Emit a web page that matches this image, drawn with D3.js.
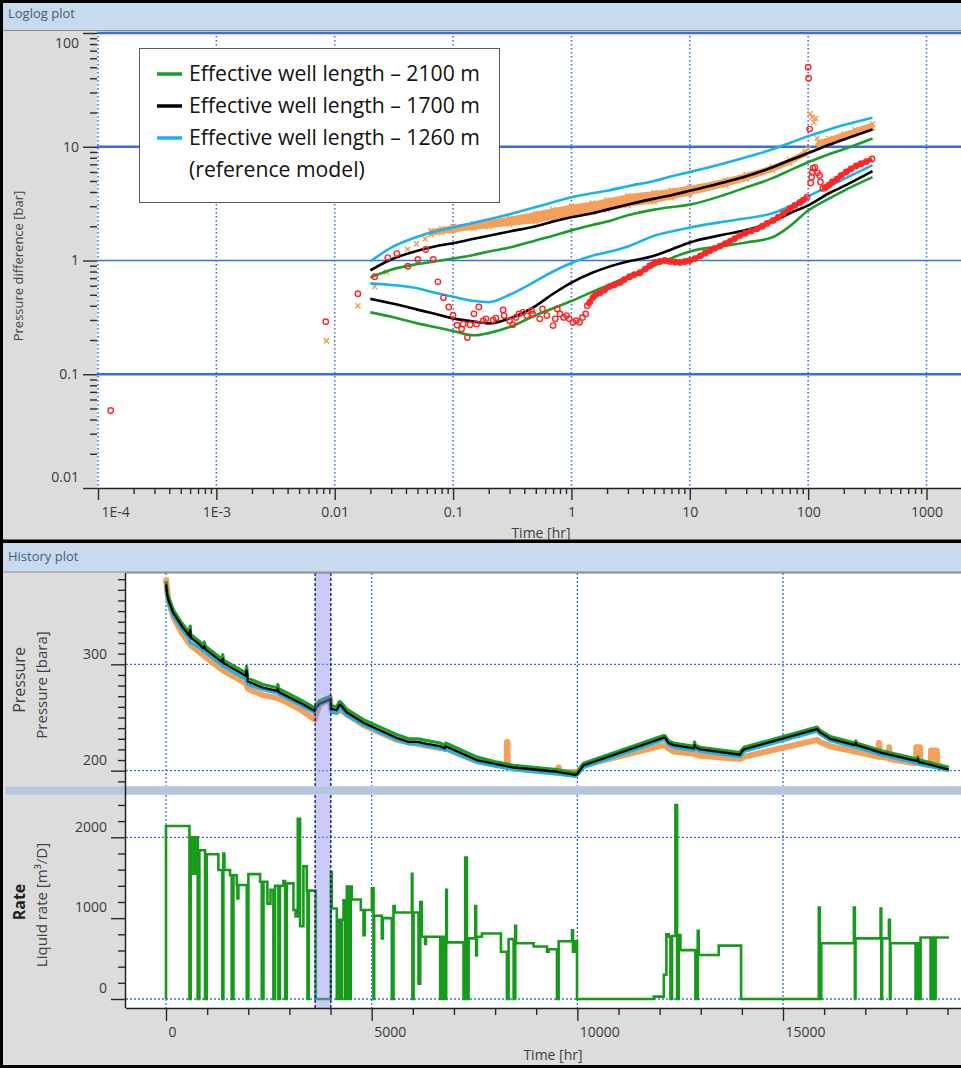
<!DOCTYPE html>
<html>
<head>
<meta charset="utf-8">
<script src="https://cdn.jsdelivr.net/npm/d3@7"></script>
<style>
body { margin: 0; background: #fff; }
svg { display: block; font-family: "Open Sans", "Noto Sans", sans-serif; }
</style>
</head>
<body>
<div id="chart"></div>
<script>
// ---------- loglog data ----------
var modelT = [0.02,0.03,0.05,0.07,0.1,0.15,0.2,0.3,0.5,0.7,1,1.5,2,3,5,7,10,20,30,50,70,100,150,200,350];
var blueP  = [0.98,1.3,1.62,1.8,1.95,2.15,2.3,2.55,2.95,3.25,3.6,3.9,4.1,4.5,5.0,5.5,6.0,7.2,8.1,9.5,10.8,12.4,14.2,15.5,18.0];
var blackP = [0.82,1.02,1.22,1.33,1.42,1.55,1.65,1.8,2.0,2.2,2.4,2.6,2.8,3.1,3.5,3.75,4.1,4.9,5.5,6.6,7.6,8.8,10.4,11.6,14.2];
var greenP = [0.71,0.83,0.93,0.98,1.04,1.12,1.2,1.3,1.5,1.65,1.84,2.05,2.2,2.5,2.8,2.95,3.1,3.8,4.4,5.3,6.2,7.3,8.6,9.5,11.8];
var blueD  = [0.63,0.61,0.57,0.52,0.48,0.44,0.43,0.5,0.66,0.8,0.95,1.1,1.18,1.33,1.65,1.8,1.95,2.2,2.35,2.6,3.0,3.66,4.5,5.2,6.9];
var blackD = [0.46,0.42,0.37,0.34,0.31,0.29,0.28,0.31,0.4,0.51,0.64,0.78,0.87,0.98,1.1,1.25,1.44,1.7,1.85,2.2,2.6,3.05,3.9,4.5,6.1];
var greenD = [0.35,0.32,0.28,0.26,0.24,0.22,0.23,0.26,0.33,0.38,0.44,0.53,0.6,0.72,0.9,1.05,1.2,1.35,1.44,1.6,2.0,2.75,3.5,4.1,5.4];

// measured pressure change (crosses)
var orSparseT = [0.0085,0.0157,0.0218,0.0274,0.0412,0.049,0.058];
var orSparseV = [0.197,0.40,0.59,0.79,1.25,1.40,1.55];
var orBandT  = [0.065,0.08,0.1,0.15,0.2,0.3,0.5,0.7,1,1.5,2,3,5,7,10,20,30,50,70,95];
var orBandLo = [1.7,1.76,1.82,1.92,1.98,2.08,2.2,2.35,2.5,2.65,2.8,3.05,3.3,3.55,3.85,4.6,5.2,6.2,7.2,8.5];
var orBandHi = [1.82,1.9,1.98,2.1,2.2,2.35,2.6,2.8,3.0,3.2,3.4,3.7,3.95,4.15,4.4,5.1,5.7,6.7,7.7,9.1];
var orSpikeT = [100,104,108,112,116,119];
var orSpikeV = [9.6,19.5,18.2,16.4,17.8,11.9];
var orLateT  = [122,150,200,250,350];
var orLateLo = [10.0,10.8,12.0,13.0,14.6];
var orLateHi = [11.0,11.8,13.0,14.1,15.9];

// measured derivative (circles)
var redT = [0.000128,0.0084,0.0157,0.0218,0.0281,0.0335,0.0415,0.0504,0.0589,0.068,0.0745,0.083,0.092,0.1,0.108,0.118,0.122,0.132,0.139,0.15,0.158,0.165,0.18,0.19,0.218,0.23,0.265,0.27,0.30,0.32,0.34,0.36,0.39,0.42,0.46,0.47,0.54,0.57,0.62,0.70,0.73,0.76,0.80,0.86,0.91,0.96,1.03,1.1,1.17,1.24,1.32,1.36,1.43,1.52,1.6,1.74,1.9,2.1,2.3,2.57,2.8,3.1,3.4,3.79,4.2,4.6,5.08,5.6,6.17,6.8,7.5,8.26,9.1,10,11.07,12.3,13.5,14.8,16.3,18,19.9,22,24,26.5,29.5,33,37,41,45,50.5,56,62,70.3,77,85.4,91,97.8,100,101,103,105,107,108.5,110,114,120,125,127,133,140,150,160,175,190,210,230,255,280,310,347];
var redV = [0.048,0.29,0.51,0.72,1.06,1.15,0.89,1.02,1.25,1.02,0.65,0.47,0.39,0.33,0.27,0.25,0.277,0.21,0.273,0.34,0.277,0.39,0.296,0.307,0.30,0.312,0.368,0.328,0.296,0.273,0.316,0.339,0.35,0.328,0.362,0.339,0.307,0.375,0.328,0.268,0.307,0.375,0.339,0.316,0.328,0.307,0.286,0.296,0.286,0.316,0.339,0.40,0.43,0.475,0.50,0.52,0.55,0.59,0.61,0.64,0.68,0.72,0.75,0.78,0.84,0.9,0.96,0.98,1.0,0.98,0.97,0.96,0.98,1.0,1.04,1.1,1.16,1.22,1.28,1.34,1.41,1.48,1.56,1.66,1.74,1.82,1.9,2.0,2.12,2.25,2.4,2.6,2.87,3.05,3.24,3.4,3.6,50,40,14.3,4.8,5.4,6.0,6.5,6.6,5.9,5.6,4.9,4.3,4.4,4.6,4.9,5.2,5.6,6.0,6.4,6.8,7.1,7.4,7.8];

var llXTicks = [1e-4,1e-3,0.01,0.1,1,10,100,1000];
var llYTicks = [0.01,0.1,1,10,100];
var legendLabels = ["Effective well length \u2013 2100 m","Effective well length \u2013 1700 m","Effective well length \u2013 1260 m","(reference model)"];

// ---------- history data ----------
var pTime  = [0,30,60,180,380,560,590,600,830,900,930,960,1360,1380,1400,1940,1960,1990,2360,2700,2720,2740,3250,3620,3640,3740,3990,4010,4150,4220,4260,4390,4800,5600,5900,6130,6250,6660,6780,6800,7550,8050,8450,9500,9950,10000,10150,12100,12130,12220,12340,12830,12850,12870,12990,13960,13980,14050,15830,15900,16150,16750,16770,16790,17370,18260,18280,18300,18430,19030];
var pGreen = [378,368,363,351,339,330,336,328,321,318,321,317,305,309,304,292,298,287,281,278,281,277,267,259,262,266,270,261,260,265,264,258,248,234,230,230,229,226,224,226,213,208,205,201,198,199,207,233,233,228,226,223,227,224,222,217,219,222,241,238,232,226,228,226,219,211,213,210,209,203];
var pBlack = [375,365,360,348,336,327,332,325,318,315,317,314,302,305,301,289,294,284,278,275,277,274,264,256,259,263,267,258,257,262,261,255,245,231,227,227,226,223,221,223,210,206,203,199,196,197,205,231,231,226,224,221,224,222,220,215,217,220,239,236,230,224,226,224,217,209,211,208,207,201];
var pBlue  = [372,362,357,345,333,324,320,321,315,312,313,311,299,298,298,286,283,281,276,273,273,272,262,254,257,262,266,255,254,259,258,252,243,229,225,225,224,221,219,220,208,204,201,197,194.5,196,203,229,229,224,222,219,221,220,218,213,214,218,237,234,228,222,223,222,215,207,208,206,205,200];
var oTime = [0,30,60,180,380,560,600,830,960,1360,1400,1940,1990,2360,2740,3250,3620,3640,3740,3990,4010,4150,4220,4390,4800,5600,6130,6660,6800,7550,8050,8280,8290,8300,8310,8450,9500,9540,9550,9560,9950,10000,10150,12100,12130,12220,12340,12830,12990,13960,14050,15830,15900,16150,16750,17320,17330,17340,17370,17570,17580,17590,18230,18240,18330,18340,18430,18590,18600,18740,18750,19030];
var oVal  = [381,368,360,344,330,320,318,311,307,295,294,282,277,271,268,258,248,252,262,268,258,255,258,253,243,229,225,221,221,209,205,204,227,227,204,202,198,203,203,198,199,198,205,224,224,221,218,216,214,211,213,229,227,223,218,213,226,226,213,212,222,211,207,222,222,207,206,205,219,219,205,202];

var rateT = [0,0,570,600,665,706,770,811,949,989,1273,1370,1395,1420,1557,1598,1640,1720,1736,1760,1963,2003,2287,2328,2370,2465,2540,2611,2652,2733,2770,2855,2895,2936,3098,3150,3204,3260,3341,3422,3439,3470,3641,4006,4031,4152,4193,4230,4274,4315,4350,4396,4460,4490,4517,4736,4801,4830,5004,5045,5060,5247,5270,5490,5531,5560,5977,5990,6018,6139,6180,6220,6301,6320,6666,6700,6748,6812,6829,7234,7274,7315,7356,7518,7540,7558,7680,8142,8288,8329,8451,8491,8510,8937,9262,9302,9505,9546,9870,9894,9951,9992,11857,12103,12165,12222,12263,12303,12384,12425,12465,12506,12871,12927,12951,13438,13981,15871,15896,15930,16723,16747,16763,17372,17390,17410,17575,17599,17615,18223,18260,18300,18345,18588,18620,18650,18710,19034];
var rateQ = [0,2140,0,2000,1550,2000,0,1840,0,1790,1595,0,1800,1595,1530,0,1530,1410,1245,1410,0,1545,1450,0,1450,1180,1350,0,1400,0,1400,1460,0,1430,1100,1020,2230,900,1640,1340,0,1340,0,1570,1120,0,980,0,980,1220,0,1390,0,1390,1230,1100,790,1100,1370,0,1030,750,1000,0,1150,1070,1550,0,1070,190,1200,770,680,770,0,770,0,1350,700,0,1750,0,750,1150,540,770,810,585,0,740,0,905,690,650,585,615,0,715,850,585,715,0,30,300,800,770,0,780,2400,0,790,605,0,845,545,660,0,1130,0,690,1130,0,750,1120,0,750,980,0,690,0,690,0,760,0,760,0,760,760];

var shutInWindow = [3625, 4007];
var histXTicks = [0,5000,10000,15000];
var pressTicks = [200,300];
var rateTicks = [0,1000,2000];

// ---------- setup ----------
var W = 961, H = 1068;
var gridBlue = "#3d6be0";
var cGreen = "#1a9e2a", cBlue = "#1ab2ea", cOrange = "#f5a05a", cRed = "#ff2626";

var svg = d3.select("#chart").append("svg").attr("width", W).attr("height", H);

svg.append("rect").attr("width", W).attr("height", H).attr("fill", "#dcdcdc");

const zip = (a, b) => a.map((d, i) => [d, b[i]]);

// ================= LOGLOG PANEL =================
svg.append("rect").attr("x", 2).attr("y", 2).attr("width", W - 2).attr("height", 28).attr("fill", "#c8daed");
svg.append("line").attr("x1", 2).attr("x2", W).attr("y1", 30.5).attr("y2", 30.5).attr("stroke", "#8a8a8a");
svg.append("text").attr("x", 8).attr("y", 18).text("Loglog plot")
  .attr("font-size", 13).attr("fill", "#4d5a78");

var llL = 97, llT = 32, llR = 961, llB = 488;
var x1 = d3.scaleLog().domain([1e-4, 1000]).range([98, 926.5]);
var y1 = d3.scaleLog().domain([0.01, 100]).range([488, 33]);

svg.append("rect").attr("x", llL).attr("y", llT).attr("width", llR - llL).attr("height", llB - llT).attr("fill", "#fff");
svg.append("clipPath").attr("id", "clipLL").append("rect")
  .attr("x", llL).attr("y", llT - 2).attr("width", llR - llL).attr("height", llB - llT + 2);

var ll = svg.append("g");
var llClip = svg.append("g").attr("clip-path", "url(#clipLL)");

// grid
llClip.selectAll(".vg").data(llXTicks).enter().append("line")
  .attr("x1", d => x1(d)).attr("x2", d => x1(d)).attr("y1", llT).attr("y2", llB)
  .attr("stroke", gridBlue).attr("stroke-width", 1.6).attr("stroke-dasharray", "1.5,2.5");
llClip.selectAll(".hg").data([0.1, 1, 10, 100]).enter().append("line")
  .attr("x1", llL).attr("x2", llR).attr("y1", d => y1(d)).attr("y2", d => y1(d))
  .attr("stroke", gridBlue).attr("stroke-width", d => d == 1 ? 1.3 : 2.3);

// axes
var fmtLL = d => d < 0.005 ? d3.format(".0e")(d).replace("e-", "E-").replace("1E-0", "1E-") : d3.format("~g")(d);
var yMinor = [];
[0.01, 0.1, 1, 10].forEach(function (dec) { for (var k = 2; k < 10; k++) yMinor.push(dec * k); });
var xMinor = [];
[1e-4, 1e-3, 0.01, 0.1, 1, 10, 100].forEach(function (dec) { for (var k = 2; k < 10; k++) xMinor.push(dec * k); });

var yAx = ll.append("g").attr("transform", "translate(" + llL + ",0)")
  .call(d3.axisLeft(y1).tickValues(llYTicks).tickSize(14).tickPadding(4).tickFormat(fmtLL));
ll.append("g").attr("transform", "translate(" + llL + ",0)")
  .call(d3.axisLeft(y1).tickValues(yMinor).tickSize(7).tickFormat(""));
var xAx = ll.append("g").attr("transform", "translate(0," + llB + ")")
  .call(d3.axisBottom(x1).tickValues(llXTicks).tickSize(12).tickPadding(7).tickFormat(fmtLL));
ll.append("g").attr("transform", "translate(0," + llB + ")")
  .call(d3.axisBottom(x1).tickValues(xMinor).tickSize(6).tickFormat(""));
ll.selectAll(".domain").remove();
ll.append("line").attr("x1", llL).attr("x2", llR).attr("y1", llB + 0.5).attr("y2", llB + 0.5).attr("stroke", "#222").attr("stroke-width", 1.5);
ll.selectAll(".tick line").attr("stroke", "#2a2a2a").attr("stroke-width", 1.4);
ll.selectAll(".tick text").attr("font-size", 14).attr("fill", "#3a3a3a").attr("font-family", "'Open Sans', sans-serif");
yAx.selectAll(".tick text").attr("dy", d => d == 100 ? "1.05em" : d == 0.01 ? "-0.5em" : "0.32em");
xAx.selectAll(".tick text").filter(d => d == 1e-4).attr("text-anchor", "start").attr("x", 3);

ll.append("text").attr("x", 541).attr("y", 538).attr("text-anchor", "middle")
  .attr("font-size", 14).attr("fill", "#404040").text("Time [hr]");
ll.append("text").attr("transform", "translate(23,266) rotate(-90)").attr("text-anchor", "middle")
  .attr("font-size", 13).attr("fill", "#454545").text("Pressure difference [bar]");

// data
var llLine = d3.line().x(d => x1(d[0])).y(d => y1(d[1])).curve(d3.curveMonotoneX);
var band = d3.area().x(d => x1(d[0])).y0(d => y1(d[1])).y1(d => y1(d[2])).curve(d3.curveMonotoneX);
var crossPath = "M-2.6,-2.6L2.6,2.6M-2.6,2.6L2.6,-2.6";

var orBand = orBandT.map((t, i) => [t, orBandLo[i], orBandHi[i]]);
var orLate = orLateT.map((t, i) => [t, orLateLo[i], orLateHi[i]]);
llClip.append("path").datum(orBand).attr("d", band).attr("fill", cOrange).attr("stroke", cOrange).attr("stroke-width", 3);
llClip.append("path").datum(orLate).attr("d", band).attr("fill", cOrange).attr("stroke", cOrange).attr("stroke-width", 3);

var crossPts = zip(orSparseT, orSparseV).concat(zip(orSpikeT, orSpikeV))
  .concat(orBand.map(d => [d[0], d[1]])).concat(orBand.map(d => [d[0], d[2]]))
  .concat(orLate.map(d => [d[0], d[1]])).concat(orLate.map(d => [d[0], d[2]]));
llClip.selectAll(".cross").data(crossPts).enter().append("path")
  .attr("d", crossPath).attr("transform", d => "translate(" + x1(d[0]) + "," + y1(d[1]) + ")")
  .attr("stroke", cOrange).attr("stroke-width", 1.5).attr("fill", "none");

var models = [
  { v: greenD, c: cGreen }, { v: blackD, c: "#000" }, { v: blueD, c: cBlue },
  { v: greenP, c: cGreen }, { v: blackP, c: "#000" }, { v: blueP, c: cBlue }
];
llClip.selectAll(".model").data(models).enter().append("path")
  .attr("d", d => llLine(zip(modelT, d.v)))
  .attr("fill", "none").attr("stroke", d => d.c).attr("stroke-width", 2.6);

var redPts = zip(redT, redV);
var redDense1 = redPts.filter(d => d[0] >= 1.36 && d[0] <= 98);
var redDense2 = redPts.filter(d => d[0] >= 133);
[redDense1, redDense2].forEach(function (seg) {
  llClip.append("path").datum(seg).attr("d", d3.line().x(d => x1(d[0])).y(d => y1(d[1])))
    .attr("fill", "none").attr("stroke", cRed).attr("stroke-width", 4.5).attr("stroke-linejoin", "round");
});
llClip.selectAll(".circ").data(redPts).enter().append("circle")
  .attr("cx", d => x1(d[0])).attr("cy", d => y1(d[1])).attr("r", 2.7)
  .attr("fill", "none").attr("stroke", cRed).attr("stroke-width", 1.4);

// legend
var leg = svg.append("g");
leg.append("rect").attr("x", 139.5).attr("y", 48.5).attr("width", 360).attr("height", 154)
  .attr("fill", "#fff").attr("stroke", "#5a5a5a").attr("stroke-width", 1);
var legColors = [cGreen, "#000", cBlue, null];
var legTexts = leg.selectAll(".lt").data(legendLabels).enter().append("text")
  .attr("x", 189).attr("y", (d, i) => 81 + i * 32)
  .attr("font-size", 20).attr("fill", "#111").attr("font-family", "'Open Sans', sans-serif")
  .text(d => d);
var tw = legTexts.node().getComputedTextLength();
legTexts.attr("font-size", 20 * 291 / tw);
leg.selectAll(".ll").data(legColors.filter(c => c)).enter().append("line")
  .attr("x1", 157).attr("x2", 182).attr("y1", (d, i) => 74 + i * 32).attr("y2", (d, i) => 74 + i * 32)
  .attr("stroke", d => d).attr("stroke-width", 3.5);

// ================= HISTORY PANEL =================
svg.append("rect").attr("x", 0).attr("y", 539.5).attr("width", W).attr("height", 3.5).attr("fill", "#000");
svg.append("rect").attr("x", 2).attr("y", 543).attr("width", W - 2).attr("height", 28.5).attr("fill", "#c8daed");
svg.append("line").attr("x1", 2).attr("x2", W).attr("y1", 572).attr("y2", 572).attr("stroke", "#8a8a8a");
svg.append("text").attr("x", 8).attr("y", 561).text("History plot")
  .attr("font-size", 13).attr("fill", "#4d5a78");

var hL = 126, hR = 961, pT = 573, pB = 786, rT = 795, rB = 1008;
var x2 = d3.scaleLinear().domain([0, 15000]).range([166, 783]);
var yP = d3.scaleLinear().domain([200, 300]).range([770.7, 664.3]);
var yR = d3.scaleLinear().domain([0, 2000]).range([999, 837.3]);

svg.append("rect").attr("x", hL).attr("y", pT).attr("width", hR - hL).attr("height", pB - pT).attr("fill", "#fff");
svg.append("rect").attr("x", hL).attr("y", rT).attr("width", hR - hL).attr("height", rB - rT).attr("fill", "#fff");
svg.append("rect").attr("x", 6).attr("y", pB + 0.5).attr("width", W - 6).attr("height", rT - pB - 1).attr("fill", "#b3c6dd");

svg.append("clipPath").attr("id", "clipP").append("rect").attr("x", hL).attr("y", pT).attr("width", hR - hL).attr("height", pB - pT);
svg.append("clipPath").attr("id", "clipR").append("rect").attr("x", hL).attr("y", rT).attr("width", hR - hL).attr("height", rB - rT);
var gp = svg.append("g").attr("clip-path", "url(#clipP)");
var gr = svg.append("g").attr("clip-path", "url(#clipR)");

// grid
[[gp, pT, pB], [gr, rT, rB]].forEach(function (s) {
  s[0].selectAll(".vg").data(histXTicks).enter().append("line")
    .attr("x1", d => x2(d)).attr("x2", d => x2(d)).attr("y1", s[1]).attr("y2", s[2])
    .attr("stroke", gridBlue).attr("stroke-width", 1.3).attr("stroke-dasharray", "2,2");
});
gp.selectAll(".hg").data(pressTicks).enter().append("line")
  .attr("x1", hL).attr("x2", hR).attr("y1", d => yP(d)).attr("y2", d => yP(d))
  .attr("stroke", gridBlue).attr("stroke-width", 1.3).attr("stroke-dasharray", "2,2");
gr.selectAll(".hg").data([0, 2000]).enter().append("line")
  .attr("x1", hL).attr("x2", hR).attr("y1", d => yR(d)).attr("y2", d => yR(d))
  .attr("stroke", gridBlue).attr("stroke-width", 1.3).attr("stroke-dasharray", "2,2");

// pressure lines
var pLine = d3.line().x(d => x2(d[0])).y(d => yP(d[1]));
gp.append("path").datum(zip(oTime, oVal)).attr("d", pLine).attr("fill", "none")
  .attr("stroke", cOrange).attr("stroke-width", 6).attr("stroke-linejoin", "round");
gp.append("path").datum(zip(pTime, pBlue)).attr("d", pLine).attr("fill", "none")
  .attr("stroke", cBlue).attr("stroke-width", 3).attr("stroke-linejoin", "round");
gp.append("path").datum(zip(pTime, pGreen)).attr("d", pLine).attr("fill", "none")
  .attr("stroke", cGreen).attr("stroke-width", 3.2).attr("stroke-linejoin", "round");
gp.append("path").datum(zip(pTime, pBlack)).attr("d", pLine).attr("fill", "none")
  .attr("stroke", "#000").attr("stroke-width", 2.3).attr("stroke-linejoin", "round");

// rate
var rLine = d3.line().x(d => x2(d[0])).y(d => yR(d[1])).curve(d3.curveStepAfter);
gr.append("path").datum(zip(rateT, rateQ)).attr("d", rLine).attr("fill", "none")
  .attr("stroke", "#17991c").attr("stroke-width", 2.6);

// shut-in highlight
[[gp, pT, pB], [gr, rT, rB]].forEach(function (s) {
  s[0].append("rect").attr("x", x2(shutInWindow[0])).attr("y", s[1])
    .attr("width", x2(shutInWindow[1]) - x2(shutInWindow[0])).attr("height", s[2] - s[1])
    .attr("fill", "#8c8cee").attr("fill-opacity", 0.45);
  s[0].selectAll(".sb").data(shutInWindow).enter().append("line")
    .attr("x1", d => x2(d)).attr("x2", d => x2(d)).attr("y1", s[1]).attr("y2", s[2])
    .attr("stroke", "#0a0a80").attr("stroke-width", 1.3).attr("stroke-dasharray", "3,2");
});

// axes
var ax = svg.append("g");
var pMinor = d3.range(190, 390, 10).filter(d => d % 100 != 0);
var rMinor = d3.range(200, 2600, 200).filter(d => d % 1000 != 0);
var hMinor = d3.range(1000, 20000, 1000).filter(d => d % 5000 != 0);

var pAx = ax.append("g").attr("transform", "translate(" + hL + ",0)")
  .call(d3.axisLeft(yP).tickValues(pressTicks).tickSize(15).tickPadding(4).tickFormat(d3.format("d")));
ax.append("g").attr("transform", "translate(" + hL + ",0)")
  .call(d3.axisLeft(yP).tickValues(pMinor).tickSize(8).tickFormat(""));
var rAx = ax.append("g").attr("transform", "translate(" + hL + ",0)")
  .call(d3.axisLeft(yR).tickValues(rateTicks).tickSize(15).tickPadding(4).tickFormat(d3.format("d")));
ax.append("g").attr("transform", "translate(" + hL + ",0)")
  .call(d3.axisLeft(yR).tickValues(rMinor).tickSize(8).tickFormat(""));
var hAx = ax.append("g").attr("transform", "translate(0," + rB + ")")
  .call(d3.axisBottom(x2).tickValues(histXTicks).tickSize(13).tickPadding(6).tickFormat(d3.format("d")));
ax.append("g").attr("transform", "translate(0," + rB + ")")
  .call(d3.axisBottom(x2).tickValues(hMinor).tickSize(7).tickFormat(""));
ax.selectAll(".domain").remove();
ax.selectAll(".tick line").attr("stroke", "#2a2a2a").attr("stroke-width", 1.4);
ax.selectAll(".tick text").attr("font-size", 14).attr("fill", "#3a3a3a").attr("font-family", "'Open Sans', sans-serif");
pAx.selectAll(".tick text").attr("dy", "-0.45em");
rAx.selectAll(".tick text").attr("dy", "-0.45em");
hAx.selectAll(".tick text").attr("text-anchor", "start").attr("x", 2);

ax.append("line").attr("x1", hL - 0.5).attr("x2", hL - 0.5).attr("y1", pT).attr("y2", rB).attr("stroke", "#222").attr("stroke-width", 1.5);
ax.append("line").attr("x1", hL).attr("x2", hR).attr("y1", rB + 0.5).attr("y2", rB + 0.5).attr("stroke", "#222").attr("stroke-width", 1.5);
ax.append("line").attr("x1", hL).attr("x2", hR).attr("y1", pT).attr("y2", pT).attr("stroke", "#777").attr("stroke-width", 1);

ax.append("text").attr("x", 553).attr("y", 1060).attr("text-anchor", "middle")
  .attr("font-size", 14).attr("fill", "#404040").text("Time [hr]");
ax.append("text").attr("transform", "translate(25,680) rotate(-90)").attr("text-anchor", "middle")
  .attr("font-size", 16).attr("fill", "#404040").text("Pressure");
ax.append("text").attr("transform", "translate(47,685) rotate(-90)").attr("text-anchor", "middle")
  .attr("font-size", 15).attr("fill", "#404040").text("Pressure [bara]");
ax.append("text").attr("transform", "translate(25,902) rotate(-90)").attr("text-anchor", "middle")
  .attr("font-size", 16).attr("font-weight", "bold").attr("fill", "#202020").text("Rate");
ax.append("text").attr("transform", "translate(47,905) rotate(-90)").attr("text-anchor", "middle")
  .attr("font-size", 15).attr("fill", "#404040").text("Liquid rate [m\u00b3/D]");

// outer frame
svg.append("rect").attr("x", 1.5).attr("y", 1.5).attr("width", W + 5).attr("height", H - 3)
  .attr("fill", "none").attr("stroke", "#000").attr("stroke-width", 3);
</script>
</body>
</html>
